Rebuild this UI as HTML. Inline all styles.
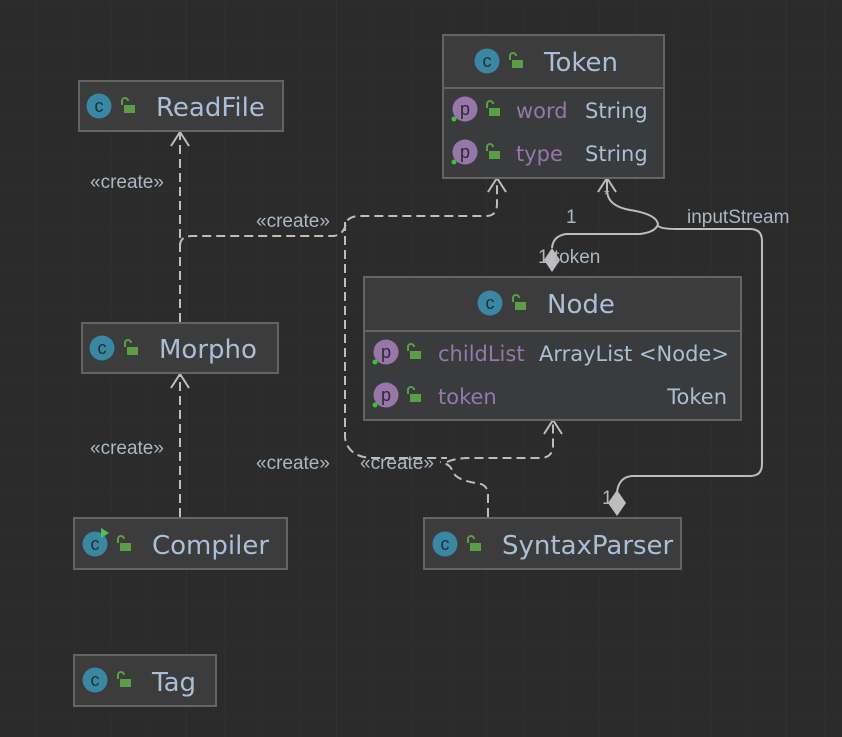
<!DOCTYPE html>
<html><head><meta charset="utf-8"><style>
html,body{margin:0;padding:0;background:#2b2b2b;}
svg{display:block;}
</style></head><body>
<svg width="842" height="737" viewBox="0 0 842 737" xmlns="http://www.w3.org/2000/svg" font-family="DejaVu Sans, Liberation Sans, sans-serif">
<defs>
<pattern id="g" x="36.5" y="4" width="37.5" height="37.5" patternUnits="userSpaceOnUse">
<path d="M0 0V37.5M0 0H37.5" stroke="#323232" stroke-width="1" fill="none"/>
</pattern>
<pattern id="G" x="36.5" y="4" width="150" height="150" patternUnits="userSpaceOnUse">
<path d="M0 0V150" stroke="#373737" stroke-width="1" fill="none"/>
</pattern>
<g id="ci"><circle r="12.5" fill="#3a87a3"/><text x="0" y="6" font-size="18" fill="#1f2f36" text-anchor="middle" font-family="Liberation Sans">c</text></g>
<g id="lk"><path d="M-5 -2 v-4 a3 3 0 0 1 6 0" stroke="#5a9e45" stroke-width="2" fill="none"/><rect x="-3" y="-2" width="11" height="8" fill="#5a9e45"/></g>
<g id="pi"><circle r="12.5" fill="#9876aa"/><text x="0" y="6" font-size="18" fill="#2b2b2b" text-anchor="middle" font-family="Liberation Sans">p</text><circle cx="-11" cy="10" r="2.5" fill="#3ac23a"/></g>
</defs>
<rect width="842" height="737" fill="url(#g)"/>
<rect width="842" height="737" fill="url(#G)"/>

<!-- connectors -->
<g fill="none" stroke="#bdbdbd" stroke-width="2" stroke-dasharray="9,5">
<path d="M180 322 V133"/>
<path d="M180 517 V375"/>
<path d="M180 246 Q180 236 192 236 H334 Q345 234 346 222 Q350 216 360 216 H486 Q497 216 497 204 V180"/>
<path d="M345 222 V438 Q348 456 370 458 H447"/>
<path d="M488 517 V495 Q488 484 476 483 Q455 480 452 470 Q450 464 440 462"/>
<path d="M447 462 Q455 458 470 458 H540 Q553 458 553 445 V422"/>
</g>
<g fill="none" stroke="#bdbdbd" stroke-width="2">
<path d="M171 146 L180 132 L189 146"/>
<path d="M171 388 L180 374 L189 388"/>
<path d="M488 192 L497 178 L506 192"/>
<path d="M544 434 L553 420 L562 434"/>
<path d="M598 192 L607 178 L616 192"/>
<path d="M552 248 Q553 236 566 234 H640 Q656 232 658 224 Q656 214 630 210 Q607 206 607 190 V180"/>
<path d="M658 226 Q662 229 676 229 H750 Q762 229 762 241 V464 Q762 476 750 476 H632 Q619 477 617 492"/>
</g>
<path d="M552 248 L560 260 L552 272 L544 260 Z" fill="#bdbdbd"/>
<path d="M617 490 L626 503 L617 516 L608 503 Z" fill="#bdbdbd"/>

<!-- labels -->
<g font-size="19" fill="#a9b7c6" font-family="Liberation Sans, sans-serif">
<text x="90" y="188">«create»</text>
<text x="90" y="454">«create»</text>
<text x="256" y="227">«create»</text>
<text x="256" y="469">«create»</text>
<text x="360" y="469">«create»</text>
<text x="566" y="223">1</text>
<text x="538" y="263">1 token</text>
<text x="604" y="199" font-size="14">*</text>
<text x="687" y="223">inputStream</text>
<text x="602" y="504">1</text>
</g>

<!-- boxes -->
<g stroke="#646464" stroke-width="2">
<rect x="443" y="35" width="221" height="143" fill="#393b3d"/>
<rect x="443" y="35" width="221" height="53" fill="#3c3c3c"/>
<rect x="79" y="81" width="204" height="50" fill="#3c3c3c"/>
<rect x="82" y="323" width="196" height="50" fill="#3c3c3c"/>
<rect x="74" y="518" width="213" height="51" fill="#3c3c3c"/>
<rect x="74" y="655" width="142" height="51" fill="#3c3c3c"/>
<rect x="364" y="277" width="377" height="143" fill="#393b3d"/>
<rect x="364" y="277" width="377" height="54" fill="#3c3c3c"/>
<rect x="424" y="518" width="257" height="51" fill="#3c3c3c"/>
</g>

<g font-size="26" fill="#a9bfd8">
<use href="#ci" x="487" y="61"/><use href="#lk" x="515" y="62"/><text x="544" y="71">Token</text>
<use href="#ci" x="99" y="106"/><use href="#lk" x="127" y="107"/><text x="156" y="116">ReadFile</text>
<use href="#ci" x="102" y="348"/><use href="#lk" x="130" y="349"/><text x="159" y="358">Morpho</text>
<use href="#ci" x="95" y="544"/><path d="M101 528 l8 5 l-8 5z" fill="#4ec24e"/><use href="#lk" x="123" y="545"/><text x="152" y="554">Compiler</text>
<use href="#ci" x="95" y="680"/><use href="#lk" x="123" y="681"/><text x="152" y="691">Tag</text>
<use href="#ci" x="490" y="303"/><use href="#lk" x="518" y="304"/><text x="547" y="313">Node</text>
<use href="#ci" x="445" y="544"/><use href="#lk" x="473" y="545"/><text x="502" y="554">SyntaxParser</text>
</g>

<g font-size="21">
<use href="#pi" x="465" y="109"/><use href="#lk" x="492" y="110"/>
<text x="516" y="118" fill="#9876aa">word</text><text x="585" y="118" fill="#a9bfd8">String</text>
<use href="#pi" x="465" y="152"/><use href="#lk" x="492" y="153"/>
<text x="516" y="161" fill="#9876aa">type</text><text x="585" y="161" fill="#a9bfd8">String</text>
<use href="#pi" x="386" y="352"/><use href="#lk" x="413" y="353"/>
<text x="438" y="361" fill="#9876aa">childList</text><text x="539" y="361" fill="#a9bfd8">ArrayList &lt;Node&gt;</text>
<use href="#pi" x="386" y="395"/><use href="#lk" x="413" y="396"/>
<text x="438" y="404" fill="#9876aa">token</text><text x="727" y="404" fill="#a9bfd8" text-anchor="end">Token</text>
</g>
</svg>
</body></html>
